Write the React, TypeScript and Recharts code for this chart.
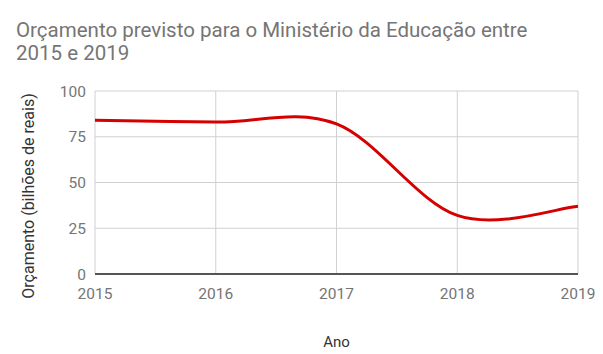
import React from 'react';
import { LineChart, Line, XAxis, YAxis, CartesianGrid, Label } from 'recharts';

const years = [2015, 2016, 2017, 2018, 2019];
const budget = [84, 83, 82, 32, 37];
const yTicks = [0, 25, 50, 75, 100];
const title = ['Orçamento previsto para o Ministério da Educação entre', '2015 e 2019'];
const yTitle = 'Orçamento (bilhões de reais)';
const xTitle = 'Ano';

const data = years.map((y, i) => ({ year: y, value: budget[i] }));

const FONT = 'Roboto, "Noto Sans", sans-serif';
const GRAY = '#757575';

// Catmull-Rom (cardinal, tension 0) curve factory, similar to Google Charts "function" curve
function catmullRom(context: any) {
  let pts: [number, number][] = [];
  return {
    areaStart() {},
    areaEnd() {},
    lineStart() { pts = []; },
    point(x: number, y: number) { pts.push([+x, +y]); },
    lineEnd() {
      const n = pts.length;
      if (n === 0) return;
      context.moveTo(pts[0][0], pts[0][1]);
      for (let i = 0; i < n - 1; i++) {
        const p0 = pts[Math.max(0, i - 1)];
        const p1 = pts[i];
        const p2 = pts[i + 1];
        const p3 = pts[Math.min(n - 1, i + 2)];
        const c1x = p1[0] + (p2[0] - p0[0]) / 6;
        const c1y = p1[1] + (p2[1] - p0[1]) / 6;
        const c2x = p2[0] - (p3[0] - p1[0]) / 6;
        const c2y = p2[1] - (p3[1] - p1[1]) / 6;
        context.bezierCurveTo(c1x, c1y, c2x, c2y, p2[0], p2[1]);
      }
    },
  };
}

export default function App() {
  return (
    <div style={{ position: 'absolute', left: 0, top: 0, width: 603, height: 354, background: '#fff', fontFamily: FONT }}>
      <div style={{ position: 'absolute', left: 16, top: 19, fontSize: 20.5, lineHeight: '23px', color: GRAY, fontFamily: FONT }}>
        {title.map((t, i) => <div key={i}>{t}</div>)}
      </div>
      <LineChart width={603} height={354} data={data} margin={{ top: 91, right: 25, bottom: 50, left: 35 }}>
        <CartesianGrid stroke="#d0d0d0" strokeWidth={1} verticalValues={years} horizontalValues={yTicks} />
        <XAxis
          dataKey="year"
          type="number"
          domain={[2015, 2019]}
          ticks={years}
          interval={0}
          height={30}
          tickLine={false}
          axisLine={{ stroke: '#555', strokeWidth: 2 }}
          tickMargin={8}
          tick={{ fill: GRAY, fontSize: 15.5, fontFamily: FONT }}
        >
          <Label value={xTitle} position="bottom" offset={32} style={{ fill: '#333', fontSize: 15, fontFamily: FONT }} />
        </XAxis>
        <YAxis
          type="number"
          domain={[0, 100]}
          ticks={yTicks}
          width={60}
          tickLine={false}
          axisLine={false}
          tickMargin={3}
          tick={{ fill: GRAY, fontSize: 15.5, fontFamily: FONT }}
        >
          <Label
            content={() => (
              <text
                x={28}
                y={196}
                transform="rotate(-90 28 196)"
                textAnchor="middle"
                dominantBaseline="central"
                style={{ fill: '#333', fontSize: 16, fontFamily: FONT }}
              >
                {yTitle}
              </text>
            )}
          />
        </YAxis>
        <Line type={catmullRom as any} dataKey="value" stroke="#d50000" strokeWidth={3} dot={false} isAnimationActive={false} />
      </LineChart>
    </div>
  );
}
